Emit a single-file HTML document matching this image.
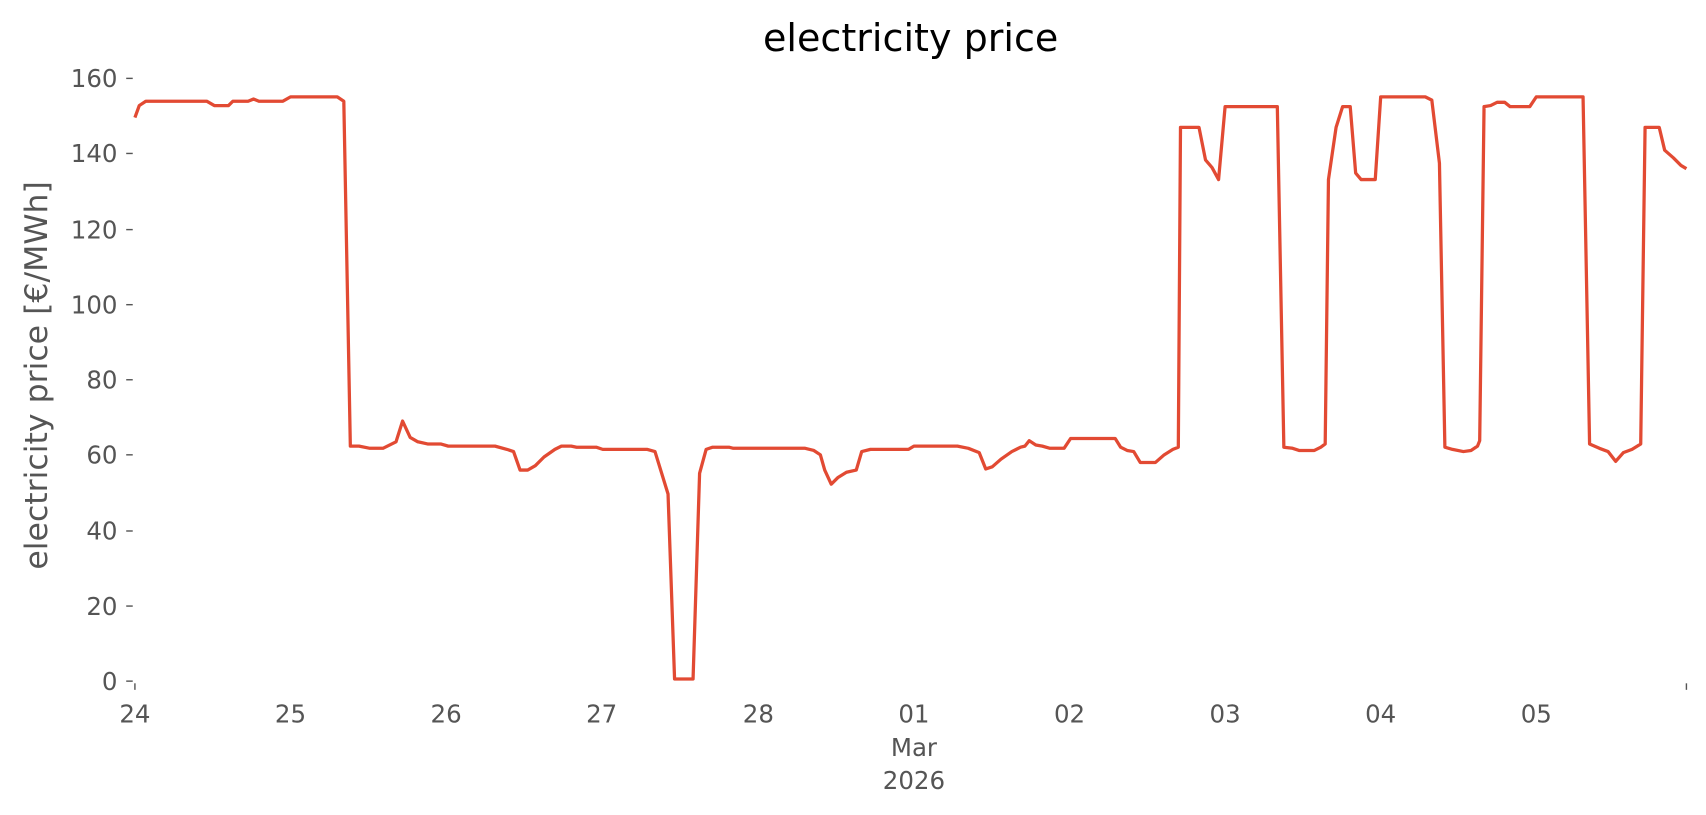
<!DOCTYPE html>
<html><head><meta charset="utf-8"><style>
body{margin:0;background:#fff;}
svg{display:block;font-family:"DejaVu Sans","Liberation Sans",sans-serif;}
</style></head><body>
<svg width="1706" height="815" viewBox="0 0 1568 749">
<text x="837" y="47" font-size="35" text-anchor="middle" fill="#000">electricity price</text>
<text transform="translate(43,345) rotate(-90)" font-size="29" text-anchor="middle" fill="#555">electricity price [€/MWh]</text>
<g font-size="22.5" fill="#555" text-anchor="end">
<text x="108" y="634">0</text>
<text x="108" y="565">20</text>
<text x="108" y="496">40</text>
<text x="108" y="426">60</text>
<text x="108" y="357">80</text>
<text x="108" y="288">100</text>
<text x="108" y="219">120</text>
<text x="108" y="149">140</text>
<text x="108" y="80">160</text>
</g>
<g stroke="#555" stroke-width="1.3">
<line x1="116" y1="626" x2="122" y2="626"/><line x1="116" y1="557" x2="122" y2="557"/>
<line x1="116" y1="488" x2="122" y2="488"/><line x1="116" y1="418" x2="122" y2="418"/>
<line x1="116" y1="349" x2="122" y2="349"/><line x1="116" y1="280" x2="122" y2="280"/>
<line x1="116" y1="211" x2="122" y2="211"/><line x1="116" y1="141" x2="122" y2="141"/>
<line x1="116" y1="72" x2="122" y2="72"/>
<line x1="124" y1="628" x2="124" y2="634"/><line x1="1550" y1="628" x2="1550" y2="634"/>
</g>
<g font-size="22.5" fill="#555" text-anchor="middle">
<text x="124" y="664">24</text><text x="267" y="664">25</text><text x="410" y="664">26</text>
<text x="553" y="664">27</text><text x="697" y="664">28</text><text x="840" y="664">01</text>
<text x="983" y="664">02</text><text x="1126" y="664">03</text><text x="1269" y="664">04</text>
<text x="1412" y="664">05</text>
<text x="840" y="695">Mar</text><text x="840" y="725">2026</text>
</g>
<polyline fill="none" stroke="#e24a33" stroke-width="3" stroke-linejoin="round" points="124,108 128,97 134,93 190,93 197,97 210,97 214,93 228,93 233,91 238,93 260,93 267,89 310,89 316,93 322,410 330,410 340,412 352,412 358,409 364,406 370,387 377,402 384,406 393,408 405,408 412,410 455,410 466,413 472,415 478,432 485,432 492,428 500,420 510,413 516,410 525,410 530,411 548,411 554,413 595,413 602,415 614,454 620,624 637,624 643,435 649,413 655,411 670,411 674,412 740,412 748,414 754,418 758,432 764,445 770,439 778,434 787,432 792,415 800,413 835,413 840,410 880,410 890,412 900,416 906,431 912,429 920,422 930,415 938,411 942,410 946,405 952,409 958,410 965,412 978,412 984,403 1025,403 1030,411 1036,414 1042,415 1048,425 1062,425 1070,418 1078,413 1083,411 1085,117 1102,117 1108,147 1114,154 1120,165 1126,98 1174,98 1180,411 1188,412 1194,414 1208,414 1214,411 1218,408 1221,165 1228,117 1234,98 1241,98 1246,159 1251,165 1264,165 1269,89 1310,89 1316,92 1323,150 1328,411 1335,413 1345,415 1352,414 1358,410 1360,405 1364,98 1370,97 1376,94 1383,94 1388,98 1406,98 1412,89 1455,89 1461,408 1470,412 1478,415 1485,424 1492,416 1500,413 1508,408 1512,117 1525,117 1530,138 1538,145 1545,152 1550,155"/>
</svg>
</body></html>
